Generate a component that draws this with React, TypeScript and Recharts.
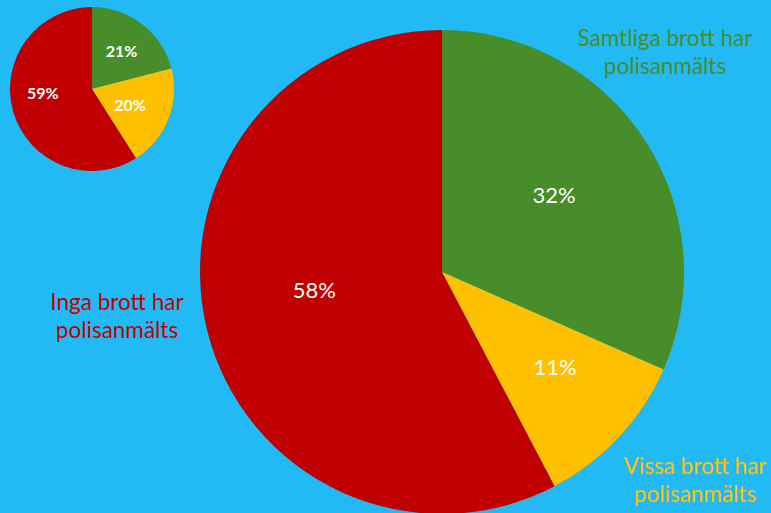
import { PieChart, Pie, Cell } from 'recharts'

const categories = ['Samtliga brott har polisanmälts', 'Vissa brott har polisanmälts', 'Inga brott har polisanmälts']
const mainValues = [31.6, 10.7, 57.7]
const mainLabels = ['32%', '11%', '58%']
const insetValues = [21, 20, 59]
const insetLabels = ['21%', '20%', '59%']
const colors = ['#478D2A', '#FFC000', '#C00000']

const mainData = categories.map((name, i) => ({ name, value: mainValues[i], label: mainLabels[i] }))
const insetData = categories.map((name, i) => ({ name, value: insetValues[i], label: insetLabels[i] }))

const RADIAN = Math.PI / 180
const FONT = 'Lato, "Open Sans", sans-serif'

// label placement: fraction of radius and angle nudge (deg), per slice
function makeLabel(fracs: number[], shifts: number[], size: number, weight: number) {
    return (props: any) => {
        const { cx, cy, midAngle, outerRadius, index, payload } = props
        const r = outerRadius * fracs[index]
        const a = (midAngle + shifts[index]) * RADIAN
        const x = cx + r * Math.cos(-a)
        const y = cy + r * Math.sin(-a)
        return (
            <text
                x={x}
                y={y}
                fill="#fff"
                textAnchor="middle"
                dominantBaseline="central"
                fontSize={size}
                fontWeight={weight}
                fontFamily={FONT}
            >
                {payload.label}
            </text>
        )
    }
}

const outsideLabels = [
    { lines: ['Samtliga brott har', 'polisanmälts'], x: 665, y: 24, color: '#478D2A' },
    { lines: ['Inga brott har', 'polisanmälts'], x: 117, y: 288, color: '#C00000' },
    { lines: ['Vissa brott har', 'polisanmälts'], x: 695, y: 452, color: '#FFC000' },
]

export default function App() {
    return (
        <div style={{ position: 'absolute', left: 0, top: 0, width: 771, height: 513, background: '#22BAF5', overflow: 'hidden' }}>
            <PieChart width={771} height={513} margin={{ top: 0, right: 0, bottom: 0, left: 0 }}>
                <Pie
                    data={mainData}
                    dataKey="value"
                    cx={442}
                    cy={272}
                    outerRadius={242}
                    startAngle={90}
                    endAngle={-270}
                    stroke="none"
                    labelLine={false}
                    label={makeLabel([0.562, 0.61, 0.533], [1.4, 3, -6], 22, 400)}
                    isAnimationActive={false}
                >
                    {mainData.map((d, i) => (
                        <Cell key={d.name} fill={colors[i]} />
                    ))}
                </Pie>
                <Pie
                    data={insetData}
                    dataKey="value"
                    cx={92}
                    cy={89}
                    outerRadius={82}
                    startAngle={90}
                    endAngle={-270}
                    stroke="none"
                    labelLine={false}
                    label={makeLabel([0.59, 0.5, 0.6], [0, 0, -12.7], 16, 700)}
                    isAnimationActive={false}
                >
                    {insetData.map((d, i) => (
                        <Cell key={d.name} fill={colors[i]} />
                    ))}
                </Pie>
            </PieChart>
            {outsideLabels.map((l) => (
                <div
                    key={l.lines[0]}
                    style={{
                        position: 'absolute',
                        left: l.x - 120,
                        top: l.y,
                        width: 240,
                        textAlign: 'center',
                        color: l.color,
                        fontFamily: FONT,
                        fontSize: 22.5,
                        lineHeight: '28px',
                    }}
                >
                    {l.lines.map((t) => (
                        <div key={t}>{t}</div>
                    ))}
                </div>
            ))}
        </div>
    )
}
